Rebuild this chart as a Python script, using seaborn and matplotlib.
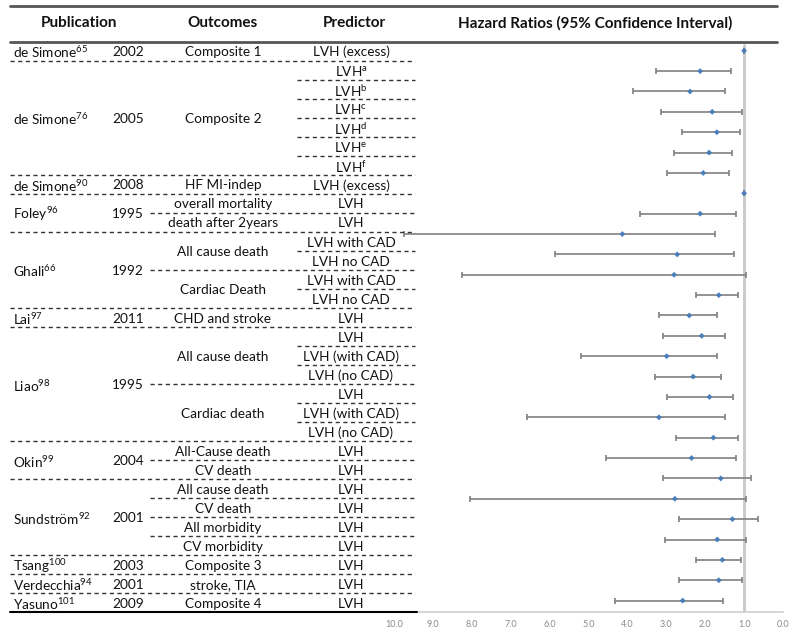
import matplotlib
matplotlib.use("Agg")
import matplotlib.pyplot as plt
from matplotlib.lines import Line2D
import seaborn as sns
import pandas as pd

# table columns
studies = ['de Simone', 'de Simone', 'de Simone', 'Foley', 'Ghali', 'Lai', 'Liao',
           'Okin', 'Sundström', 'Tsang', 'Verdecchia', 'Yasuno']
refs = ['65', '76', '90', '96', '66', '97', '98', '99', '92', '100', '94', '101']
years = ['2002', '2005', '2008', '1995', '1992', '2011', '1995', '2004', '2001', '2003', '2001', '2009']
study_rows = [1, 6, 1, 2, 4, 1, 6, 2, 4, 1, 1, 1]

outcomes = ['Composite 1', 'Composite 2', 'HF MI-indep', 'overall mortality', 'death after 2years',
            'All cause death', 'Cardiac Death', 'CHD and stroke', 'All cause death', 'Cardiac death',
            'All-Cause death', 'CV death', 'All cause death', 'CV death', 'All morbidity',
            'CV morbidity', 'Composite 3', 'stroke, TIA', 'Composite 4']
outcome_rows = [1, 6, 1, 1, 1, 2, 2, 1, 3, 3, 1, 1, 1, 1, 1, 1, 1, 1, 1]

predictors = ['LVH (excess)', r'LVH$^{\mathrm{a}}$', r'LVH$^{\mathrm{b}}$', r'LVH$^{\mathrm{c}}$',
              r'LVH$^{\mathrm{d}}$', r'LVH$^{\mathrm{e}}$', r'LVH$^{\mathrm{f}}$', 'LVH (excess)',
              'LVH', 'LVH', 'LVH with CAD', 'LVH no CAD', 'LVH with CAD', 'LVH no CAD',
              'LVH', 'LVH', 'LVH (with CAD)', 'LVH (no CAD)', 'LVH', 'LVH (with CAD)', 'LVH (no CAD)',
              'LVH', 'LVH', 'LVH', 'LVH', 'LVH', 'LVH', 'LVH', 'LVH', 'LVH']

# hazard ratios (28 plotted estimates)
hr = [1.00, 2.13, 2.39, 1.82, 1.70, 1.90, 2.05, 1.00, 2.13, 4.13, 2.72, 2.80, 1.65, 2.41,
      2.09, 2.99, 2.31, 1.89, 3.19, 1.79, 2.35, 1.60, 2.78, 1.30, 1.69, 1.56, 1.65, 2.58]
ci_high = [1.01, 3.27, 3.85, 3.14, 2.60, 2.80, 2.99, 1.01, 3.67, 9.75, 5.86, 8.26, 2.24, 3.20,
           3.09, 5.20, 3.28, 2.99, 6.59, 2.75, 4.55, 3.09, 8.05, 2.67, 3.03, 2.24, 2.67, 4.32]
ci_low = [0.99, 1.34, 1.48, 1.05, 1.11, 1.30, 1.40, 0.99, 1.22, 1.75, 1.26, 0.95, 1.16, 1.70,
          1.49, 1.70, 1.60, 1.28, 1.49, 1.16, 1.21, 0.82, 0.95, 0.63, 0.95, 1.09, 1.06, 1.53]
x_ticks = [10, 9, 8, 7, 6, 5, 4, 3, 2, 1, 0]

sns.set_theme(style="white")
plt.rcParams['font.family'] = ['Lato', 'DejaVu Sans']
plt.rcParams['mathtext.fontset'] = 'custom'
plt.rcParams['mathtext.rm'] = 'Lato'

W, H = 795, 634
fig = plt.figure(figsize=(W / 100, H / 100), dpi=100)


def fx(x):
    return x / W


def fy(y):
    return 1 - y / H


def hline(x0, x1, y, **kw):
    fig.add_artist(Line2D([fx(x0), fx(x1)], [fy(y), fy(y)], transform=fig.transFigure, **kw))


row_h = 19.03
row0 = 51


def row_y(r):
    return row0 + row_h * r


fs = 9.8
ty = 1.2  # text offset within a row
txt_col = '#111111'

# header
hline(10, 777, 6, color='#555555', lw=2)
hline(10, 777, 42, color='#555555', lw=2)
for x, s in [(79, 'Publication'), (222, 'Outcomes'), (354, 'Predictor'),
             (595, 'Hazard Ratios (95% Confidence Interval)')]:
    fig.text(fx(x), fy(23), s, ha='center', va='center', fontsize=11, fontweight='bold', color=txt_col)

dash = dict(color='#333333', lw=1, linestyle=(0, (3, 2.5)))

# study / year column
r = 0
for name, ref, yr, n in zip(studies, refs, years, study_rows):
    yc = (row_y(r) + row_y(r + n - 1)) / 2 + ty
    fig.text(fx(13), fy(yc), name + r'$^{' + ref + '}$', ha='left', va='center', fontsize=fs, color=txt_col)
    fig.text(fx(128), fy(yc), yr, ha='center', va='center', fontsize=fs, color=txt_col)
    r += n
    if r < 30:
        hline(10, 415, row_y(r - 1) + 9.5, **dash)
hline(10, 417, row_y(29) + 9.5, color='black', lw=1.5)

# outcome column
r = 0
study_ends = set()
acc = 0
for n in study_rows:
    acc += n
    study_ends.add(acc)
for name, n in zip(outcomes, outcome_rows):
    yc = (row_y(r) + row_y(r + n - 1)) / 2 + ty
    fig.text(fx(223), fy(yc), name, ha='center', va='center', fontsize=fs, color=txt_col)
    r += n
    if r < 30 and r not in study_ends:
        hline(150, 415, row_y(r - 1) + 9.5, **dash)

# predictor column
outcome_ends = set()
acc = 0
for n in outcome_rows:
    acc += n
    outcome_ends.add(acc)
for i, p in enumerate(predictors):
    fig.text(fx(351), fy(row_y(i) + ty), p, ha='center', va='center', fontsize=fs, color=txt_col)
    if i + 1 < 30 and (i + 1) not in outcome_ends:
        hline(297, 415, row_y(i) + 9.5, **dash)

# forest plot
ax = fig.add_axes([fx(394), fy(612), fx(783) - fx(394), fy(42) - fy(612)])
df = pd.DataFrame({'pos': range(len(hr)), 'hr': hr, 'lo': ci_low, 'hi': ci_high})
ax.axvline(1.0, color='#c8c8c8', lw=2, zorder=0, ymax=0.995)
ax.errorbar(df['hr'], df['pos'], xerr=[df['hr'] - df['lo'], df['hi'] - df['hr']],
            fmt='none', ecolor='#808080', elinewidth=1.2, capsize=2.5, capthick=1.2, zorder=2)
sns.scatterplot(data=df, x='hr', y='pos', ax=ax, color='#4a7ebb', s=9, marker='D',
                edgecolor='none', zorder=3, legend=False)
ax.set_xlim(10, 0)
ax.set_ylim(27.56, -0.43)
ax.set_xticks(x_ticks)
ax.set_xticklabels([f'{t:.1f}' for t in x_ticks], fontsize=6.5, color='#8a8a8a')
ax.set_yticks([])
ax.set_xlabel('')
ax.set_ylabel('')
for s in ['top', 'left', 'right']:
    ax.spines[s].set_visible(False)
ax.spines['bottom'].set_color('#d0d0d0')
ax.spines['bottom'].set_linewidth(1.2)
ax.tick_params(axis='x', length=2, color='#d0d0d0', pad=4)
ax.patch.set_alpha(0)

fig.savefig('out.png', dpi=100)
